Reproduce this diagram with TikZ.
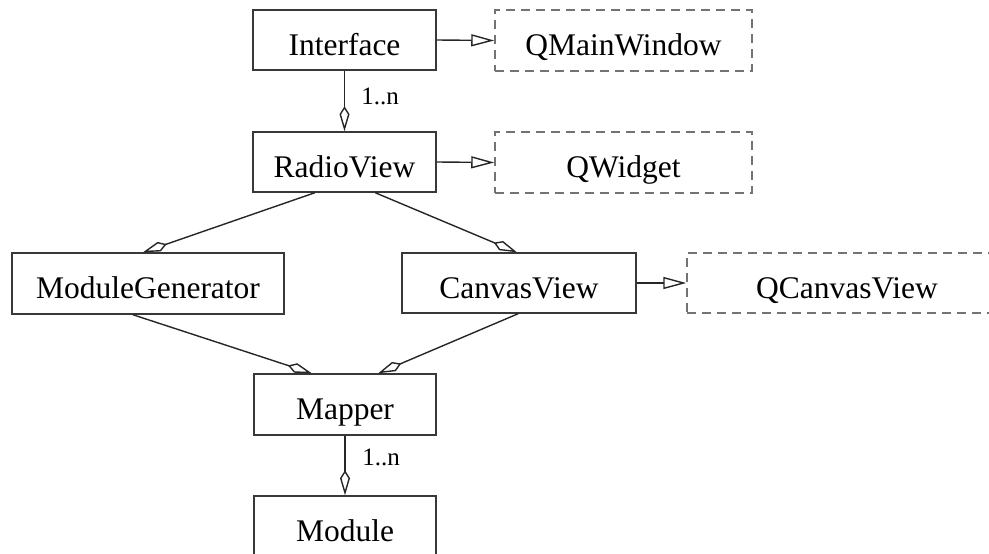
\documentclass[tikz,border=0pt]{standalone}
\usepackage{fontspec}
\setmainfont{Liberation Serif}
\usetikzlibrary{arrows.meta,calc}
\tikzset{
  umlbox/.style={draw=black!78, line width=1.5pt, minimum width=#1, inner sep=0pt,
    text height=30pt, text depth=0pt, font=\fontsize{31.5}{32}\selectfont},
  umlbox/.default=183pt,
  extbox/.style={umlbox=#1, draw=black!55, dash pattern=on 9pt off 6pt},
  conn/.style={draw=black!85, line width=1.4pt},
  agg/.style={conn, -{Kite[open, length=25pt, width=10pt, inset=8pt, line width=1.4pt]}},
  gen/.style={conn, -{Triangle[open, length=23pt, width=12pt, line width=1.4pt]}},
  mult/.style={font=\fontsize{25}{26}\selectfont, inner sep=0pt}
}
\begin{document}
\begin{tikzpicture}[x=1pt, y=-1pt]
\useasboundingbox (0,0) rectangle (989,554);
\clip (0,0) rectangle (989,554);
\node[umlbox=183pt, minimum height=60pt] (iface) at (344.5,40) {Interface};
\node[extbox=257pt, minimum height=61pt] (qmw) at (623.5,40.5) {QMainWindow};
\node[umlbox=183pt, minimum height=60pt] (rv) at (344.5,162) {RadioView};
\node[extbox=257pt, minimum height=61pt] (qw) at (623.5,162.5) {QWidget};
\node[umlbox=272pt, minimum height=61pt] (mg) at (148,283.5) {ModuleGenerator};
\node[umlbox=234pt, minimum height=60pt] (cv) at (519,283) {CanvasView};
\node[extbox=320pt, minimum height=60pt] (qcv) at (847,283) {QCanvasView};
\node[umlbox=182pt, minimum height=61pt] (map) at (345,404.5) {Mapper};
\node[umlbox=182pt, minimum height=60pt] (mod) at (345,526) {Module};

\draw[gen] (iface.east) -- (qmw.west);
\draw[gen] (rv.east) -- (qw.west);
\draw[gen] (cv.east) -- (qcv.west);

\draw[agg] (iface.south) -- (rv.north);
\node[mult] (m1) at (380,96) {1..n};
\draw[agg] (map.south) -- (mod.north);
\node[mult] (m2) at (381,457) {1..n};

\draw[agg] ($(rv.south west)!0.339!(rv.south east)$) -- ($(mg.north west)!0.482!(mg.north east)$);
\draw[agg] ($(rv.south west)!0.667!(rv.south east)$) -- ($(cv.north west)!0.491!(cv.north east)$);
\draw[agg] ($(mg.south west)!0.445!(mg.south east)$) -- ($(map.north west)!0.319!(map.north east)$);
\draw[agg] ($(cv.south west)!0.496!(cv.south east)$) -- ($(map.north west)!0.681!(map.north east)$);
\end{tikzpicture}
\end{document}
